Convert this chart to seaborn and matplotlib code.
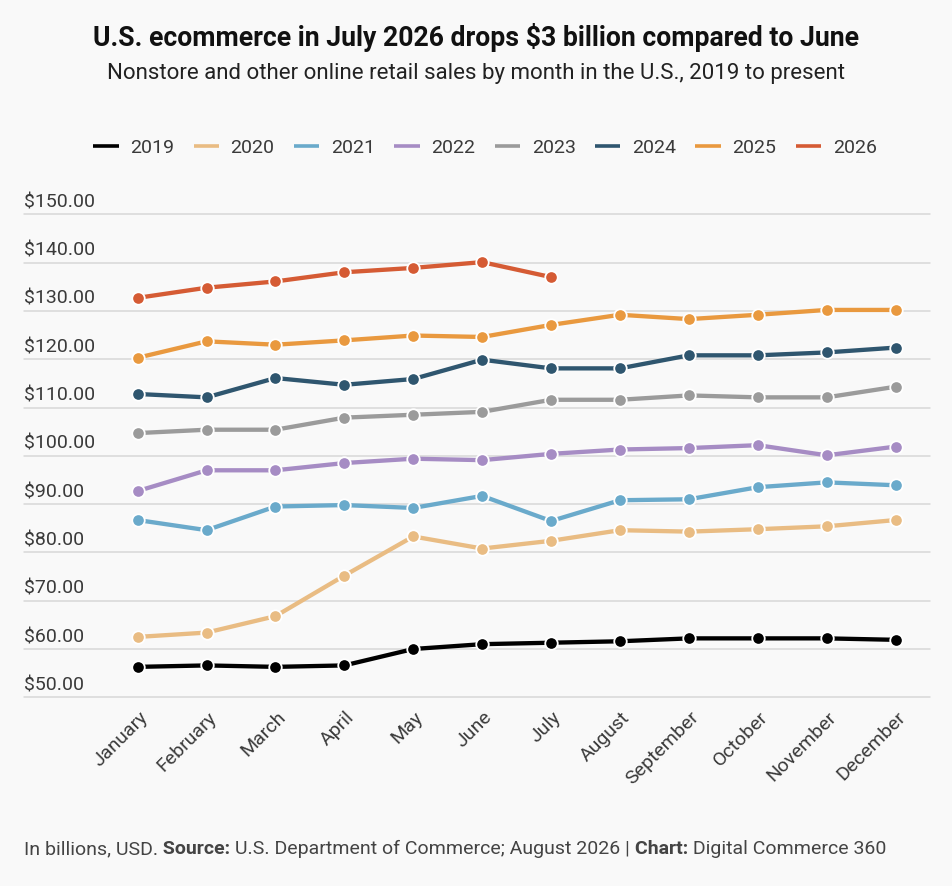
import pandas as pd
import numpy as np
import matplotlib.pyplot as plt
import matplotlib.transforms as mtransforms
from matplotlib.lines import Line2D
import seaborn as sns

# ── Data ──────────────────────────────────────────────────────────────────────
months = ['January', 'February', 'March', 'April', 'May', 'June', 'July',
          'August', 'September', 'October', 'November', 'December']

sales_2019 = [56.3, 56.6, 56.3, 56.6, 60.0, 61.0, 61.3, 61.6, 62.2, 62.2, 62.2, 61.9]
sales_2020 = [62.5, 63.4, 66.8, 75.2, 83.3, 80.8, 82.4, 84.6, 84.3, 84.8, 85.4, 86.7]
sales_2021 = [86.7, 84.6, 89.5, 89.8, 89.2, 91.7, 86.5, 90.8, 91.0, 93.5, 94.5, 93.9]
sales_2022 = [92.7, 97.0, 97.0, 98.5, 99.4, 99.1, 100.4, 101.3, 101.6, 102.2, 100.1, 101.9]
sales_2023 = [104.7, 105.4, 105.4, 107.9, 108.5, 109.1, 111.6, 111.6, 112.5, 112.1, 112.1, 114.3]
sales_2024 = [112.8, 112.1, 116.1, 114.7, 115.9, 119.9, 118.1, 118.1, 120.8, 120.8, 121.4, 122.4]
sales_2025 = [120.3, 123.7, 123.0, 123.9, 124.9, 124.6, 127.1, 129.2, 128.3, 129.2, 130.2, 130.2]
sales_2026 = [132.7, 134.8, 136.1, 138.0, 138.9, 140.1, 137.0]

years = ['2019', '2020', '2021', '2022', '2023', '2024', '2025', '2026']
series = [sales_2019, sales_2020, sales_2021, sales_2022,
          sales_2023, sales_2024, sales_2025, sales_2026]
colors = ['#000000', '#E9BC83', '#6AAACB', '#A68CC4',
          '#9B9B9B', '#2F566F', '#E9993F', '#D55B34']

y_ticks = [50, 60, 70, 80, 90, 100, 110, 120, 130, 140, 150]

rows = []
for yr, vals in zip(years, series):
    for m, v in zip(months, vals):
        rows.append({'Month': m, 'Year': yr, 'Sales': v})
df = pd.DataFrame(rows)
palette = dict(zip(years, colors))

# ── Style ─────────────────────────────────────────────────────────────────────
bg = '#f9f9f9'
txt_col = '#3a3a3a'
sns.set_theme(style='white')
plt.rcParams['font.family'] = ['Roboto', 'DejaVu Sans']

fig = plt.figure(figsize=(9.52, 8.86), dpi=100, facecolor=bg)
ax = fig.add_axes([24 / 952, 1 - 697.3 / 886, 906 / 952, 483 / 886])
ax.set_facecolor(bg)

for v in y_ticks:
    ax.axhline(v, color='#d8d8d8', lw=1.1, zorder=0)

sns.lineplot(
    data=df, x='Month', y='Sales', hue='Year', palette=palette,
    sort=False, legend=False, ax=ax,
    linewidth=3.1, marker='o', markersize=9,
    markeredgecolor='white', markeredgewidth=1.3,
)
for ln in ax.lines:
    ln.set_clip_on(False)

ax.set_xlim(-1.65, 11.50)
ax.set_ylim(50, 150)
for s in ax.spines.values():
    s.set_visible(False)
ax.set_xlabel('')
ax.set_ylabel('')
ax.set_yticks([])
ax.tick_params(axis='both', length=0)

# Month labels, rotated 45°
ax.set_xticks(range(len(months)))
ax.set_xticklabels([])
lab_tr = ax.get_xaxis_transform() + mtransforms.ScaledTranslation(1 / 100, -11 / 100, fig.dpi_scale_trans)
for i, m in enumerate(months):
    ax.text(i, 0, m, transform=lab_tr, rotation=45, rotation_mode='anchor',
            ha='right', va='top', fontsize=14, color=txt_col)

# Y labels sit above the gridlines
ylab_tr = ax.get_yaxis_transform() + mtransforms.ScaledTranslation(0, 3 / 100, fig.dpi_scale_trans)
for v in y_ticks:
    ax.text(0, v, f'${v:.2f}', transform=ylab_tr, ha='left', va='bottom',
            fontsize=14, color=txt_col)

# ── Titles ────────────────────────────────────────────────────────────────────
fig.text(0.5, 1 - 38 / 886, 'U.S. ecommerce in July 2026 drops $3 billion compared to June',
         ha='center', va='center', fontsize=19.2, fontweight='bold', color='#111111')
fig.text(0.5, 1 - 73 / 886, 'Nonstore and other online retail sales by month in the U.S., 2019 to present',
         ha='center', va='center', fontsize=16, color='#222222')

# ── Legend ────────────────────────────────────────────────────────────────────
handles = [Line2D([0], [0], color=c, lw=2.6, solid_capstyle='butt') for c in colors]
fig.legend(handles, years, loc='center', bbox_to_anchor=(0.5 + 9 / 952, 1 - 148 / 886),
           ncol=len(years), frameon=False, fontsize=14, handlelength=1.3,
           handletextpad=0.6, columnspacing=1.0, labelcolor=txt_col)

# ── Footer ────────────────────────────────────────────────────────────────────
parts = [('In billions, USD.', 'normal'), (' Source:', 'bold'),
         (' U.S. Department of Commerce; August 2026 |', 'normal'),
         (' Chart:', 'bold'), (' Digital Commerce 360', 'normal')]
prev = fig.text(24 / 952, 1 - 849 / 886, parts[0][0], ha='left', va='center',
                fontsize=14, color='#444444', fontweight=parts[0][1])
for txt, w in parts[1:]:
    prev = ax.annotate(txt, xy=(1, 0), xycoords=prev, ha='left', va='bottom',
                       fontsize=14, color='#444444', fontweight=w,
                       annotation_clip=False)

fig.savefig('out.png', dpi=100, facecolor=bg)
